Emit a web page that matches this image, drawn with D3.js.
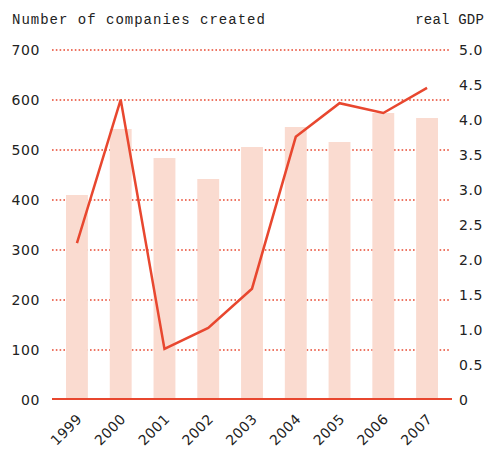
<!DOCTYPE html>
<html>
<head>
<meta charset="utf-8">
<script src="https://cdn.jsdelivr.net/npm/d3@7"></script>
<style>
  body { margin: 0; background: #fff; }
  svg text { fill: #222; }
</style>
</head>
<body>
<svg></svg>
<script>
// values
const years = ["1999", "2000", "2001", "2002", "2003", "2004", "2005", "2006", "2007"];
const companies = [410, 542, 484, 442, 506, 546, 516, 574, 564];
const gdp = [2.24, 4.29, 0.73, 1.03, 1.59, 3.76, 4.24, 4.1, 4.46];
const leftTicks = [0, 100, 200, 300, 400, 500, 600, 700];
const rightTicks = [0, 0.5, 1, 1.5, 2, 2.5, 3, 3.5, 4, 4.5, 5];

const width = 485, height = 450;
const red = "#e8472f", barColor = "#fadbd0";

const svg = d3.select("svg")
    .attr("width", width)
    .attr("height", height);

const x = d3.scaleBand().domain(years).range([52, 452])
    .paddingInner(0.5).paddingOuter(0.32);
const y = d3.scaleLinear().domain([0, 700]).range([400, 50]);
const y2 = d3.scaleLinear().domain([0, 5]).range([400, 50]);

// dotted gridlines (drawn under the bars)
svg.append("g")
  .selectAll("line")
  .data(leftTicks.filter(d => d > 0))
  .join("line")
    .attr("x1", 52).attr("x2", 451)
    .attr("y1", d => y(d)).attr("y2", d => y(d))
    .attr("stroke", red)
    .attr("stroke-width", 1.5)
    .attr("stroke-dasharray", "1.6,2.2");

// bars
svg.append("g")
  .selectAll("rect")
  .data(companies)
  .join("rect")
    .attr("x", (d, i) => x(years[i]))
    .attr("y", d => y(d))
    .attr("width", x.bandwidth())
    .attr("height", d => y(0) - y(d))
    .attr("fill", barColor);

// baseline
svg.append("line")
    .attr("x1", 52).attr("x2", 452)
    .attr("y1", y(0) - 1).attr("y2", y(0) - 1)
    .attr("stroke", red)
    .attr("stroke-width", 2.2);

// GDP line
const line = d3.line()
    .x((d, i) => x(years[i]) + x.bandwidth() / 2)
    .y(d => y2(d));

svg.append("path")
    .datum(gdp)
    .attr("fill", "none")
    .attr("stroke", red)
    .attr("stroke-width", 2.5)
    .attr("stroke-linejoin", "miter")
    .attr("d", line);

// left axis labels
const leftAxis = d3.axisLeft(y)
    .tickValues(leftTicks)
    .tickSize(0)
    .tickPadding(0)
    .tickFormat(d => d === 0 ? "00" : d);

svg.append("g")
    .attr("transform", "translate(40,0)")
    .call(leftAxis)
    .call(g => g.select(".domain").remove())
    .call(g => g.selectAll("text")
        .attr("font-family", "DejaVu Sans")
        .attr("font-size", 14)
        .attr("letter-spacing", 0.6)
        .attr("fill", "#222"));

// right axis labels
const rightAxis = d3.axisRight(y2)
    .tickValues(rightTicks)
    .tickSize(0)
    .tickPadding(0)
    .tickFormat(d => d === 0 ? "0" : d3.format(".1f")(d));

svg.append("g")
    .attr("transform", "translate(459,0)")
    .call(rightAxis)
    .call(g => g.select(".domain").remove())
    .call(g => g.selectAll("text")
        .attr("font-family", "DejaVu Sans")
        .attr("font-size", 14)
        .attr("letter-spacing", 0.6)
        .attr("fill", "#222"));

// x labels, rotated
const xAxis = d3.axisBottom(x).tickSize(0).tickPadding(0);
svg.append("g")
    .attr("transform", "translate(0,400)")
    .call(xAxis)
    .call(g => g.select(".domain").remove())
    .call(g => g.selectAll("text")
        .attr("font-family", "DejaVu Sans")
        .attr("font-size", 14)
        .attr("letter-spacing", 0.4)
        .attr("fill", "#222")
        .attr("text-anchor", "end")
        .attr("dy", null)
        .attr("transform", "translate(6,20) rotate(-45)"));

// titles
svg.append("text")
    .attr("x", 12).attr("y", 24)
    .attr("font-family", "Liberation Mono")
    .attr("font-size", 14)
    .attr("letter-spacing", 1)
    .text("Number of companies created");

svg.append("text")
    .attr("x", 484).attr("y", 24)
    .attr("text-anchor", "end")
    .attr("font-family", "Liberation Mono")
    .attr("font-size", 14)
    .attr("letter-spacing", 0.2)
    .text("real GDP");
</script>
</body>
</html>
